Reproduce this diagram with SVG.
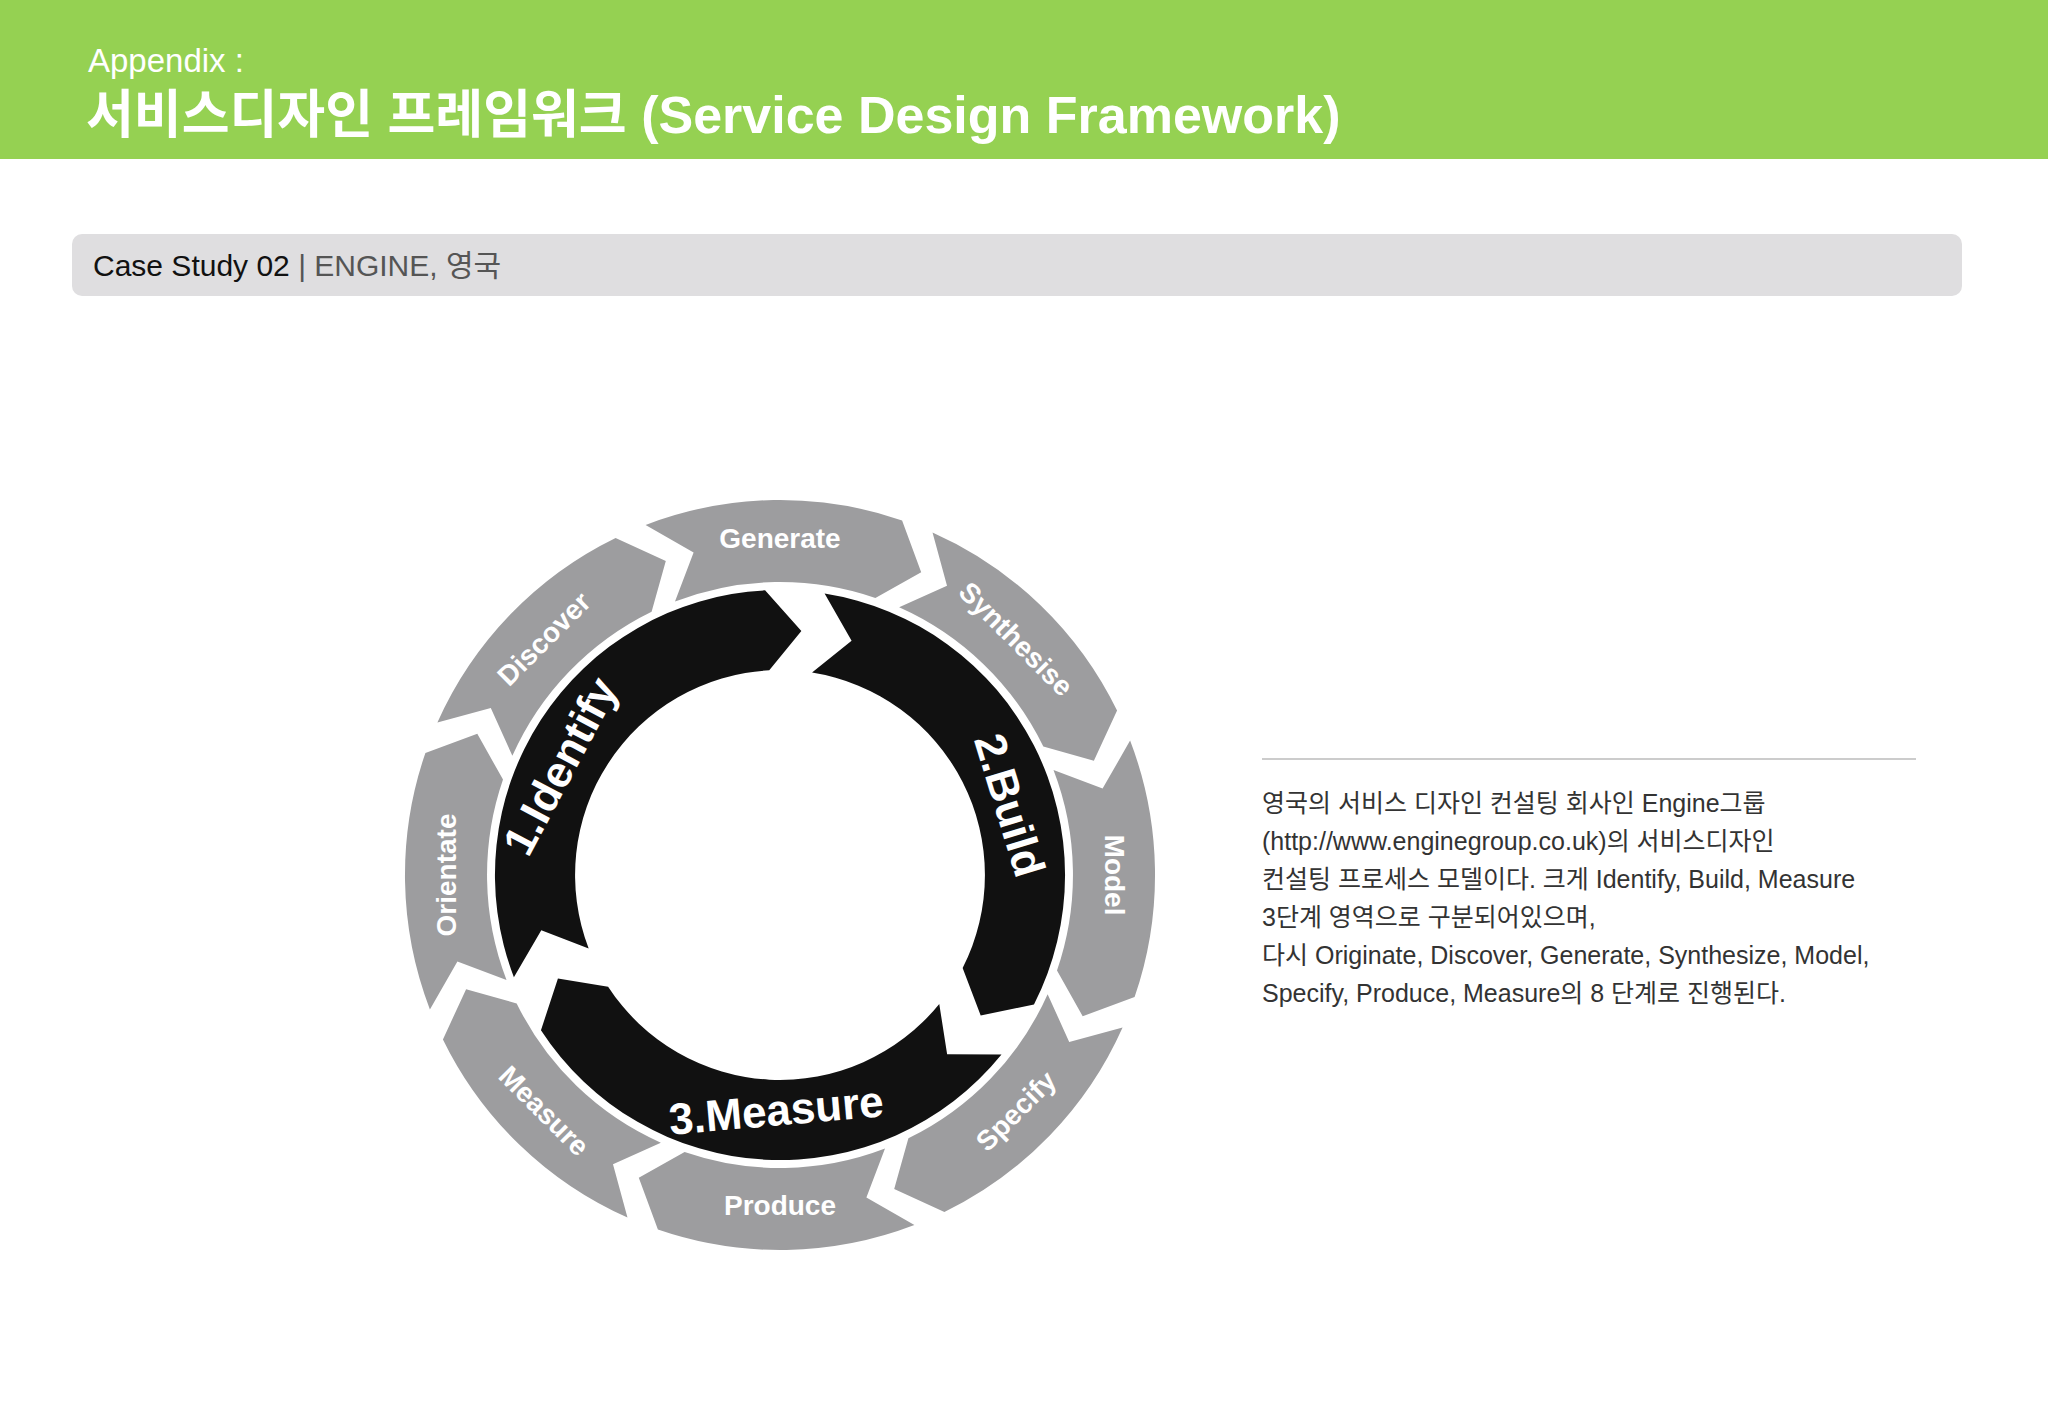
<svg xmlns="http://www.w3.org/2000/svg" width="2048" height="1418" viewBox="0 0 2048 1418">
<style>
.f{font-family:"Liberation Sans","Noto Sans CJK KR",sans-serif}
.g{fill:#9d9d9f}
.gl{font-family:"Liberation Sans","Noto Sans CJK KR",sans-serif;font-weight:bold;font-size:28px;fill:#fff;text-anchor:middle;dominant-baseline:central}
.bl{font-family:"Liberation Sans","Noto Sans CJK KR",sans-serif;font-weight:bold;font-size:44px;fill:#fff;text-anchor:middle;dominant-baseline:central}
.body{font-family:"Liberation Sans","Noto Sans CJK KR",sans-serif;font-size:25px;fill:#333}
</style>
<defs>
<path id="gs" d="M350.1,-134.4 A375,375 0 0 1 354.6,122.1 L302.7,141.2 L277.0,95.4 A293,293 0 0 0 273.5,-105.0 L322.6,-86.4 Z"/>
<path id="bs" d="M159.4,-236.3 A285,285 0 0 1 175.5,224.6 L122.5,212.2 L126.2,161.5 A205,205 0 0 0 114.6,-169.9 L163.9,-182.1 Z"/>
</defs>
<rect width="2048" height="159" fill="#95d152"/>
<text class="f" x="88" y="72" font-size="33" fill="#fff">Appendix :</text>
<text class="f" x="86" y="133" font-size="52" font-weight="bold" fill="#fff">서비스디자인 프레임워크 (Service Design Framework)</text>
<g id="header">
<rect x="72" y="234" width="1890" height="62" rx="10" fill="#dfdee0"/>
<text class="f" x="93" y="276" font-size="30" fill="#111">Case Study 02 <tspan fill="#555">| ENGINE, 영국</tspan></text>
</g>
<g id="outer" transform="translate(780,875)">
<use href="#gs" class="g" transform="rotate(0)"/>
<use href="#gs" class="g" transform="rotate(45)"/>
<use href="#gs" class="g" transform="rotate(90)"/>
<use href="#gs" class="g" transform="rotate(135)"/>
<use href="#gs" class="g" transform="rotate(180)"/>
<use href="#gs" class="g" transform="rotate(225)"/>
<use href="#gs" class="g" transform="rotate(270)"/>
<use href="#gs" class="g" transform="rotate(315)"/>
</g>
<g id="inner" transform="translate(780,875)">
<use href="#bs" fill="#111" transform="rotate(95)"/>
<use href="#bs" fill="#111" transform="rotate(215)"/>
<use href="#bs" fill="#111" transform="rotate(335)"/>
</g>
<g id="labels">
<text class="gl" transform="translate(780,538)">Generate</text>
<text class="gl" transform="translate(1016,639) rotate(45)">Synthesise</text>
<text class="gl" transform="translate(1114,875) rotate(90)">Model</text>
<text class="gl" transform="translate(1016,1111) rotate(-45)">Specify</text>
<text class="gl" transform="translate(780,1205)">Produce</text>
<text class="gl" transform="translate(544,1111) rotate(45)">Measure</text>
<text class="gl" transform="translate(446,875) rotate(-90)">Orientate</text>
<text class="gl" transform="translate(544,639) rotate(-45)">Discover</text>
<text class="bl" transform="translate(560,766) rotate(-62)">1.Identify</text>
<text class="bl" transform="translate(1010,805) rotate(73)">2.Build</text>
<text class="bl" transform="translate(776,1110) rotate(-5)">3.Measure</text>
</g>
<line x1="1262" y1="759" x2="1916" y2="759" stroke="#bbb" stroke-width="1.5"/>
<g id="desc">
<text class="body" x="1262" y="812">영국의 서비스 디자인 컨설팅 회사인 Engine그룹</text>
<text class="body" x="1262" y="850">(http://www.enginegroup.co.uk)의 서비스디자인</text>
<text class="body" x="1262" y="888">컨설팅 프로세스 모델이다. 크게 Identify, Build, Measure</text>
<text class="body" x="1262" y="926">3단계 영역으로 구분되어있으며,</text>
<text class="body" x="1262" y="964">다시 Originate, Discover, Generate, Synthesize, Model,</text>
<text class="body" x="1262" y="1002">Specify, Produce, Measure의 8 단계로 진행된다.</text>
</g>
</svg>
